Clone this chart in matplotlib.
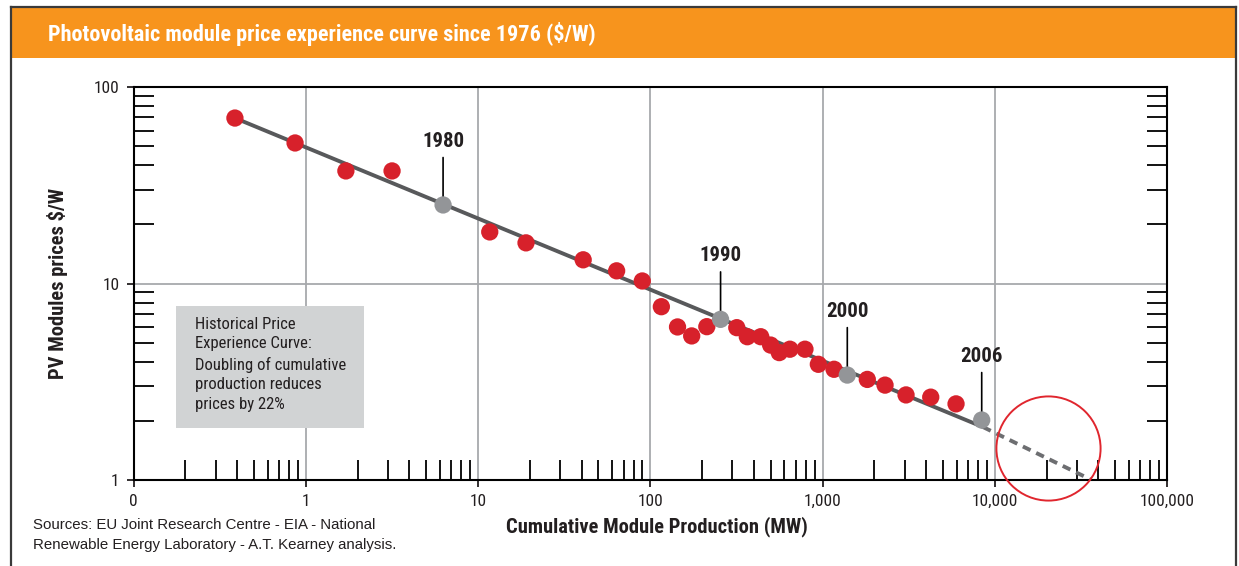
import matplotlib
matplotlib.use('Agg')
import matplotlib.pyplot as plt
from matplotlib.patches import Rectangle
from matplotlib.lines import Line2D
from matplotlib.ticker import NullFormatter

plt.rcParams['font.family'] = ['Roboto Condensed', 'IBM Plex Sans Condensed', 'DejaVu Sans']

# cumulative production (MW) and module price ($/W)
red_x = [0.388, 0.867, 1.71, 3.17, 11.7, 19.0, 40.8, 63.8, 89.9, 116, 144, 174,
         213, 318, 366, 438, 500, 561, 647, 791, 946, 1167, 1820, 2307, 3055,
         4250, 5960]
red_y = [69.5, 51.9, 37.4, 37.4, 18.3, 16.1, 13.2, 11.6, 10.3, 7.62, 6.01, 5.41,
         6.03, 5.96, 5.36, 5.36, 4.86, 4.45, 4.63, 4.63, 3.88, 3.66, 3.25, 3.04,
         2.71, 2.64, 2.44]

year_labels = ['1980', '1990', '2000', '2006']
year_x = [6.27, 256, 1393, 8400]
year_y = [25.1, 6.57, 3.42, 2.02]

curve_x = [0.388, 8550]
curve_y = [69.5, 1.86]
forecast_x = [8550, 35700]
forecast_y = [1.86, 1.01]

circle_x = [20400]
circle_y = [1.455]

xtick_vals = [0.1, 1, 10, 100, 1000, 10000, 100000]
xtick_labels = ['0', '1', '10', '100', '1,000', '10,000', '100,000']
ytick_vals = [1, 10, 100]
ytick_labels = ['1', '10', '100']

dark = '#231f20'
W, H = 1239, 566

fig = plt.figure(figsize=(W / 100, H / 100), dpi=100)
ax = fig.add_axes([133.5 / W, 1 - 480 / H, 1033.5 / W, 393 / H])

# header bar + frame
fig.patches.append(Rectangle((11 / W, 1 - 58 / H), 1225 / W, 50 / H,
                             transform=fig.transFigure, facecolor='#f7941d',
                             edgecolor='none', zorder=0))
for xs, ys in [([11 / W, 11 / W], [0, 1 - 7 / H]),
               ([11 / W, 1236 / W], [1 - 7 / H, 1 - 7 / H]),
               ([1236 / W, 1236 / W], [0, 1 - 7 / H])]:
    fig.add_artist(Line2D(xs, ys, transform=fig.transFigure, color='#3a3a3a', lw=1.6))
fig.text(48 / W, 1 - 34 / H, 'Photovoltaic module price experience curve since 1976 ($/W)',
         color='white', fontsize=16, fontweight='bold', va='center', ha='left')

ax.set_xscale('log')
ax.set_yscale('log')
ax.set_xlim(0.1, 100000)
ax.set_ylim(1, 100)

ax.grid(which='major', color='#a7a9ac', lw=1.3)
ax.set_axisbelow(True)

ax.plot(curve_x, curve_y, color='#58595b', lw=2.8, solid_capstyle='butt', zorder=3)
ax.plot(forecast_x, forecast_y, color='#6d6e71', lw=2.8, dashes=(2.2, 1.6), zorder=3)
ax.scatter(red_x, red_y, s=155, color='#d7212b', edgecolors='none', zorder=5)
ax.scatter(year_x, year_y, s=155, color='#939598', edgecolors='none', zorder=5)

for lab, x, y in zip(year_labels, year_x, year_y):
    ax.annotate(lab, xy=(x, y), xytext=(0, 46), textcoords='offset points',
                ha='center', va='center', fontsize=15, fontweight='bold', color=dark,
                arrowprops=dict(arrowstyle='-', color='black', lw=1.2, shrinkA=3, shrinkB=4),
                zorder=4)

ax.plot(circle_x, circle_y, marker='o', ms=75, mfc='none', mec='#e0262e', mew=1.4,
        clip_on=False, zorder=6)

# text box
ax.add_patch(Rectangle((0.0411, 0.132), 0.182, 0.311, transform=ax.transAxes,
                       facecolor='#d1d3d4', edgecolor='none', zorder=3))
ax.text(0.0595, 0.416, 'Historical Price\nExperience Curve:\nDoubling of cumulative\n'
        'production reduces\nprices by 22%', transform=ax.transAxes, ha='left', va='top',
        fontsize=12, linespacing=1.4, color=dark, zorder=4)

ax.set_xticks(xtick_vals)
ax.set_xticklabels(xtick_labels)
ax.set_yticks(ytick_vals)
ax.set_yticklabels(ytick_labels)
ax.xaxis.set_minor_formatter(NullFormatter())
ax.yaxis.set_minor_formatter(NullFormatter())
ax.tick_params(which='major', direction='out', length=5, width=1.3, labelsize=12.4,
               colors=dark, pad=5)
ax.tick_params(which='minor', direction='in', length=14.5, width=1.3, color='black',
               left=True, bottom=True, right=True, top=False)
for sp in ax.spines.values():
    sp.set_color('black')
    sp.set_linewidth(1.5)

fig.text(58 / W, 1 - 283 / H, 'PV Modules prices $/W', rotation=90, ha='center',
         va='center', fontsize=14.8, fontweight='bold', color=dark)
fig.text(657 / W, 1 - 527 / H, 'Cumulative Module Production (MW)', ha='center',
         va='center', fontsize=14.8, fontweight='bold', color=dark)
fig.text(33 / W, 1 - 525 / H, 'Sources: EU Joint Research Centre - EIA - National',
         ha='left', va='center', fontsize=10.8, color=dark,
         family=['Liberation Sans', 'DejaVu Sans'])
fig.text(33 / W, 1 - 545 / H, 'Renewable Energy Laboratory - A.T. Kearney analysis.',
         ha='left', va='center', fontsize=10.8, color=dark,
         family=['Liberation Sans', 'DejaVu Sans'])

fig.savefig('out.png', dpi=100)
